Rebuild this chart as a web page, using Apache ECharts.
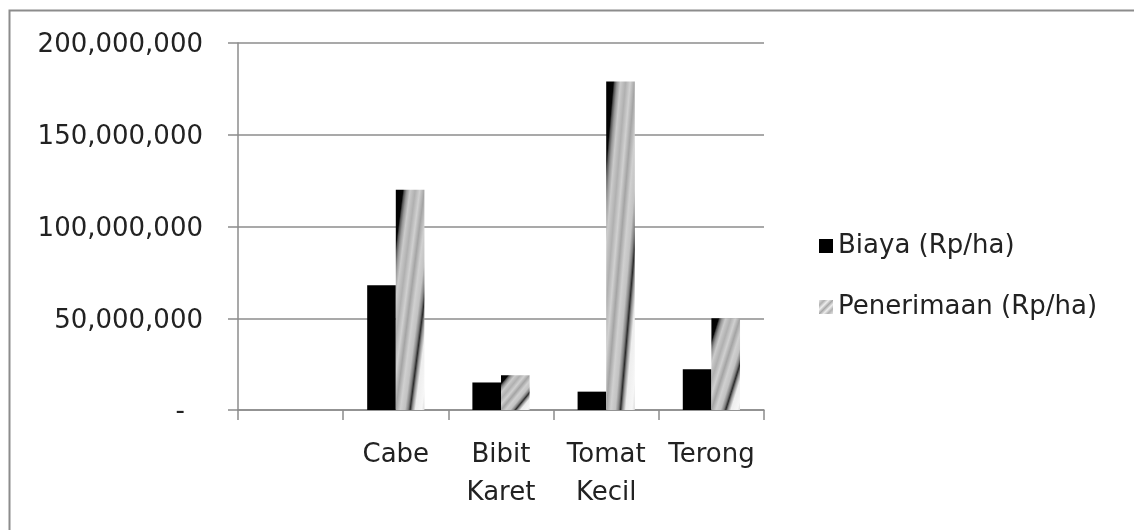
<!DOCTYPE html>
<html>
<head>
<meta charset="utf-8">
<script src="https://cdn.jsdelivr.net/npm/echarts@6/dist/echarts.min.js"></script>
<style>
  html, body { margin: 0; padding: 0; background: #ffffff; }
  #chart { width: 1134px; height: 530px; }
</style>
</head>
<body>
<div id="chart"></div>
<script>
// Categories (the first slot is an empty category, as in the source sheet)
const categories = ['', 'Cabe', 'Bibit Karet', 'Tomat Kecil', 'Terong'];
// Biaya (Rp/ha)
const biaya = [null, 68000000, 15000000, 10000000, 22200000];
// Penerimaan (Rp/ha)
const penerimaan = [null, 120000000, 19000000, 179000000, 50000000];
const seriesNames = ['Biaya (Rp/ha)', 'Penerimaan (Rp/ha)'];
const yTicks = { min: 0, max: 200000000, interval: 50000000 };

const FONT = 'DejaVu Sans';
const FONT_SIZE = 26;
const TEXT = '#222222';
const LINE = '#8c8c8c';
const BAR_RATIO = 0.272;

// Diagonal shaded fill, laid out along the bar's own "/" diagonal
const stripeStops = [
  [0.00, '#000000'], [0.125, '#050505'], [0.15, '#555555'], [0.19, '#959595'],
  [0.25, '#cbcbcb'], [0.34, '#b0b0b0'], [0.42, '#d0d0d0'], [0.50, '#a4a4a4'],
  [0.58, '#d0d0d0'], [0.66, '#c2c2c2'], [0.715, '#808080'], [0.75, '#2a2a2a'],
  [0.785, '#909090'], [0.84, '#eeeeee'], [0.95, '#f6f6f6'], [1.00, '#dadada']
].map(([offset, color]) => ({ offset, color }));

function pairs(values) {
  const out = [];
  values.forEach((v, i) => { if (v != null) out.push([i, v]); });
  return out;
}

function renderBar(side) {
  return function (params, api) {
    const cat = api.value(0);
    const top = api.coord([cat, api.value(1)]);
    const base = api.coord([cat, 0]);
    const w = api.size([1, 0])[0] * BAR_RATIO;
    const x = side < 0 ? top[0] - w : top[0];
    const y = top[1];
    const h = base[1] - top[1];
    let fill;
    if (side < 0) {
      fill = '#000000';
    } else {
      const k = 2 * w * h / (h * h + w * w);
      fill = {
        type: 'linear', global: true,
        x: x, y: y, x2: x + k * h, y2: y + k * w,
        colorStops: stripeStops
      };
    }
    return { type: 'rect', shape: { x: x, y: y, width: w, height: h }, style: { fill: fill } };
  };
}

const legendStripe = {
  type: 'linear', x: 0, y: 0, x2: 1, y2: 1,
  colorStops: [
    { offset: 0, color: '#e6e6e6' }, { offset: 0.2, color: '#b0b0b0' },
    { offset: 0.35, color: '#eeeeee' }, { offset: 0.5, color: '#a8a8a8' },
    { offset: 0.65, color: '#eeeeee' }, { offset: 0.8, color: '#b0b0b0' },
    { offset: 1, color: '#e6e6e6' }
  ]
};

const chart = echarts.init(document.getElementById('chart'), null, { renderer: 'canvas' });
chart.setOption({
  animation: false,
  backgroundColor: '#ffffff',
  textStyle: { fontFamily: FONT },
  graphic: [{
    type: 'rect', left: 7, top: 8, z: -1,
    shape: { width: 1200, height: 600 },
    style: { fill: 'none', stroke: LINE, lineWidth: 2 }
  }],
  grid: { left: 238, right: 370, top: 43, bottom: 120 },
  legend: {
    orient: 'vertical', left: 814, top: 226,
    itemWidth: 14, itemHeight: 14, itemGap: 31, icon: 'rect',
    textStyle: { fontFamily: FONT, fontSize: FONT_SIZE, color: TEXT, lineHeight: 30 },
    data: [
      { name: seriesNames[0], itemStyle: { color: '#000000' } },
      { name: seriesNames[1], itemStyle: { color: legendStripe } }
    ]
  },
  xAxis: {
    type: 'category', data: categories, boundaryGap: true,
    axisLine: { lineStyle: { color: LINE, width: 1.5 } },
    axisTick: { show: true, length: 10, lineStyle: { color: LINE, width: 1.5 } },
    axisLabel: {
      interval: 0, margin: 26, fontFamily: FONT, fontSize: FONT_SIZE, color: TEXT, lineHeight: 38,
      formatter: v => v.replace(' ', '\n')
    }
  },
  yAxis: {
    type: 'value', min: yTicks.min, max: yTicks.max, interval: yTicks.interval,
    axisLine: { show: true, lineStyle: { color: LINE, width: 1.5 } },
    axisTick: { show: true, length: 10, lineStyle: { color: LINE, width: 1.5 } },
    splitLine: { show: true, lineStyle: { color: LINE, width: 1.5 } },
    axisLabel: {
      margin: 35, fontFamily: FONT, fontSize: FONT_SIZE, color: TEXT, padding: [5, 0, 0, 0],
      formatter: v => v === 0 ? '{d|-}' : v.toLocaleString('en-US'),
      rich: { d: { fontFamily: FONT, fontSize: FONT_SIZE, color: TEXT, padding: [0, 18, 0, 0] } }
    }
  },
  series: [
    { name: seriesNames[0], type: 'custom', renderItem: renderBar(-1), data: pairs(biaya),
      itemStyle: { color: '#000000' }, encode: { x: 0, y: 1 } },
    { name: seriesNames[1], type: 'custom', renderItem: renderBar(1), data: pairs(penerimaan),
      itemStyle: { color: '#bbbbbb' }, encode: { x: 0, y: 1 } }
  ]
});
</script>
</body>
</html>
